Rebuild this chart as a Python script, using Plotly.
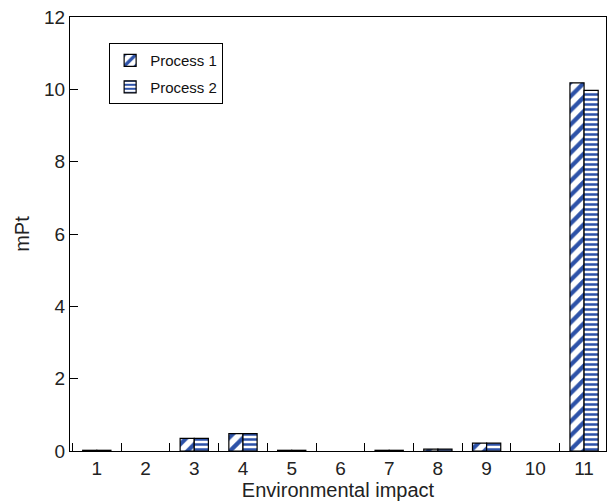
import plotly.graph_objects as go

categories = [1, 2, 3, 4, 5, 6, 7, 8, 9, 10, 11]
process1 = [0.02, None, 0.35, 0.48, 0.02, None, 0.02, 0.05, 0.22, None, 10.18]
process2 = [0.02, None, 0.35, 0.48, 0.02, None, 0.02, 0.05, 0.22, None, 9.97]
y_ticks = [0, 2, 4, 6, 8, 10, 12]

BLUE = "#2d52a8"
FONT = "Liberation Sans, Arial, Helvetica, sans-serif"

fig = go.Figure()
fig.add_trace(go.Bar(
    x=categories, y=process1, name="Process 1", legendgroup="p1",
    marker=dict(color="white", line=dict(color="black", width=1.2),
                pattern=dict(shape="/", fgcolor=BLUE, bgcolor="white", fgopacity=1,
                             size=10, solidity=0.42)),
))
fig.add_trace(go.Bar(
    x=categories, y=process2, name="Process 2", legendgroup="p2",
    marker=dict(color="white", line=dict(color="black", width=1.2),
                pattern=dict(shape="-", fgcolor=BLUE, bgcolor="white", fgopacity=1,
                             size=5, solidity=0.5)),
))

fig.update_layout(
    width=609, height=504,
    margin=dict(l=70, r=3, t=17, b=53),
    paper_bgcolor="white", plot_bgcolor="white",
    barmode="group", bargap=0.42, bargroupgap=0,
    font=dict(family=FONT, size=19, color="#222222"),
    showlegend=True,
    legend=dict(x=0.073, y=0.94, xanchor="left", yanchor="top",
                bordercolor="black", borderwidth=1, bgcolor="white",
                font=dict(size=15, family=FONT, color="#111111"), traceorder="grouped",
                tracegroupgap=4, itemwidth=30),
    xaxis=dict(
        range=[0.45, 11.45], tickmode="array", tickvals=categories,
        ticktext=[str(c) for c in categories], ticks="",
        showline=True, linecolor="black", linewidth=1.2, mirror=True,
        showgrid=False, zeroline=False,
        minor=dict(tick0=0.5, dtick=1, ticks="inside", ticklen=8, tickcolor="black", tickwidth=1.2, showgrid=False),
        title=dict(text="Environmental impact", font=dict(size=20), standoff=2),
        tickfont=dict(size=19),
    ),
    yaxis=dict(
        range=[0, 12], tickmode="array", tickvals=y_ticks,
        ticks="inside", ticklen=8, tickcolor="black", tickwidth=1.2,
        showline=True, linecolor="black", linewidth=1.2, mirror=True,
        showgrid=False, zeroline=False,
        title=dict(text="mPt", font=dict(size=20), standoff=8),
        tickfont=dict(size=19),
    ),
)

fig.write_html("out.html")
